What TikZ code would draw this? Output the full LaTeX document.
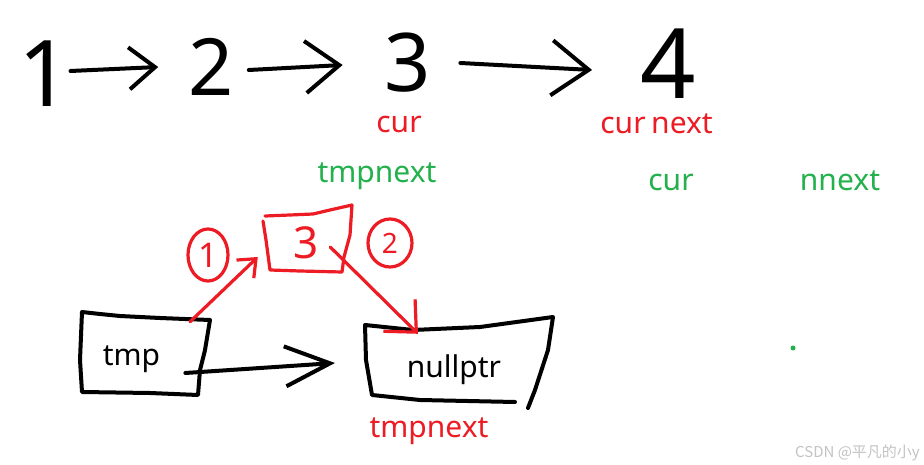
\documentclass[tikz,border=0pt]{standalone}
\usepackage{fontspec}
\setmainfont{Noto Sans}
\newfontfamily\cjkfont{Noto Sans CJK SC}
\usetikzlibrary{arrows.meta,shapes.geometric}
\definecolor{pred}{RGB}{237,28,36}
\definecolor{pgreen}{RGB}{34,177,76}
\definecolor{wmgray}{RGB}{195,195,195}
\tikzset{
  ink/.style={line width=4pt, line cap=round, line join=round},
  redink/.style={ink, draw=pred, line width=3.2pt},
  digit/.style={inner sep=0pt},
  lbl/.style={inner sep=0pt, anchor=base, text height=0.75em, text depth=0.25em, font=\fontsize{30}{30}\selectfont},
}
\begin{document}
\begin{tikzpicture}[x=1pt,y=-1pt]
\fill[white] (0,0) rectangle (924,465);
\useasboundingbox (0,0) rectangle (924,465);

% top row digits
\node[digit, font=\fontsize{92}{92}\selectfont] (n1) at (45,74) {1};
\node[digit, font=\fontsize{79}{79}\selectfont] (n2) at (211,67) {2};
\node[digit, font=\fontsize{81}{81}\selectfont] (n3) at (408,63) {3};
\node[digit, font=\fontsize{97}{97}\selectfont] (n4) at (668,64) {4};

\draw[ink, -{Straight Barb[length=26pt,width=42pt]}] ([shift={(-1,-3)}]n1.east) -- ([shift={(-30,0)}]n2.west);
\draw[ink, -{Straight Barb[length=34pt,width=52pt]}] ([shift={(15,3)}]n2.east) -- ([shift={(-42,2)}]n3.west);
\draw[ink, -{Straight Barb[length=37pt,width=55pt]}] ([shift={(29,0)}]n3.east) -- ([shift={(-48,6)}]n4.west);

% labels
\node[lbl, text=pred] (cur1) at (399,133) {cur};
\node[lbl, text=pred] (cur2) at (623,134) {cur};
\node[lbl, text=pred] (next2) at (682,134) {next};
\node[lbl, text=pgreen] (tn1) at (377,183) {tmpnext};
\node[lbl, text=pgreen] (cur3) at (671,191) {cur};
\node[lbl, text=pgreen] (nn) at (840,191) {nnext};

% red box with 3
\node[inner sep=0pt, minimum width=80pt, minimum height=56pt, text=pred, font=\fontsize{44}{44}\selectfont] (rbox) at (306,243) {3};
\draw[redink] (265,216) -- (290,215) -- (313,214) -- (330,210) -- (352,205) -- (350,235) -- (344,257) -- (342,272) -- (300,271) -- (270,270) -- (266,240) -- (263,221);

% circled numbers
\node[ellipse, draw=pred, line width=3.2pt, minimum width=40pt, minimum height=52pt, inner sep=0pt, text=pred, font=\fontsize{34}{34}\selectfont] (c1) at (208,255) {1};
\node[ellipse, draw=pred, line width=3.2pt, minimum width=44pt, minimum height=48pt, inner sep=0pt, text=pred, font=\fontsize{28}{28}\selectfont] (c2) at (390,243) {2};

% bottom boxes
\node[lbl] (tmp) at (131.5,365) {tmp};
\draw[ink] (82,312) -- (100,314) -- (120,316) -- (160,318) -- (210,320) -- (205,350) -- (200,370) -- (198,395) -- (150,393) -- (82,392) -- (80,360) -- cycle;

\node[lbl] (np) at (454,377) {nullptr};
\draw[ink] (528,408) -- (535,390) -- (548,350) -- (553,317) -- (480,327) -- (413,330) -- (365,325) -- (366,360) -- (372,395) -- (420,400) -- (515,402);

\draw[ink, -{Straight Barb[length=45pt,width=40pt]}] ([shift={(25,10.5)}]tmp.east) -- ([shift={(-71.75,-11.5)}]np.west);

% red arrows
\draw[redink, -{Straight Barb[length=15pt,width=25pt]}] ([shift={(58.5,-35.5)}]tmp.north) -- ([shift={(-8,14)}]rbox.west);
\draw[redink, -{Straight Barb[length=24pt,width=45pt]}] ([shift={(-16,4)}]rbox.east) -- ([shift={(-36,-35.5)}]np.north);

\node[lbl, text=pred] (tn2) at (429,437) {tmpnext};

% green dot
\fill[pgreen] (793,348) circle (2.5);

% watermark
\node[inner sep=0pt, anchor=base east, text=wmgray, font=\cjkfont\fontsize{15}{15}\selectfont] (wm) at (920,457) {CSDN @平凡的小y};
\end{tikzpicture}
\end{document}
